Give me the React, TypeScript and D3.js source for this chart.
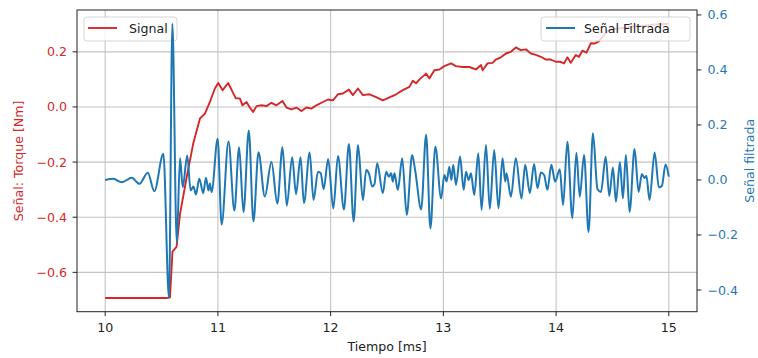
import React from "react";
import * as d3 from "d3";

// ---- data (time in ms) ----
const redT = [10.0, 10.546, 10.575, 10.597, 10.633, 10.664, 10.723, 10.781, 10.841, 10.885, 10.929, 10.973, 11.003, 11.042, 11.091, 11.13, 11.159, 11.195, 11.218, 11.254, 11.283, 11.312, 11.343, 11.387, 11.431, 11.475, 11.519, 11.573, 11.608, 11.652, 11.696, 11.741, 11.785, 11.829, 11.873, 11.932, 11.976, 12.02, 12.065, 12.109, 12.162, 12.197, 12.242, 12.286, 12.345, 12.404, 12.463, 12.522, 12.581, 12.64, 12.699, 12.729, 12.758, 12.788, 12.847, 12.876, 12.92, 12.965, 13.009, 13.068, 13.112, 13.172, 13.23, 13.289, 13.334, 13.348, 13.392, 13.436, 13.466, 13.51, 13.555, 13.599, 13.643, 13.687, 13.732, 13.776, 13.82, 13.865, 13.909, 13.953, 13.997, 14.035, 14.071, 14.1, 14.13, 14.174, 14.204, 14.233, 14.27, 14.307, 14.341, 14.381, 14.425, 14.469, 14.558, 14.676, 14.779, 14.885, 15.0];
const redV = [-0.693, -0.693, -0.691, -0.525, -0.508, -0.388, -0.255, -0.133, -0.042, -0.024, 0.018, 0.067, 0.087, 0.061, 0.087, 0.055, 0.031, 0.031, 0.006, 0.018, -0.002, -0.018, 0.003, 0.006, 0.003, 0.015, 0.006, 0.022, -0.002, -0.009, -0.002, -0.015, -0.002, -0.006, 0.006, 0.018, 0.027, 0.024, 0.046, 0.049, 0.063, 0.043, 0.067, 0.043, 0.046, 0.036, 0.024, 0.035, 0.046, 0.061, 0.073, 0.095, 0.086, 0.1, 0.121, 0.103, 0.133, 0.136, 0.148, 0.158, 0.148, 0.145, 0.145, 0.136, 0.152, 0.133, 0.158, 0.16, 0.172, 0.18, 0.194, 0.2, 0.216, 0.206, 0.209, 0.194, 0.189, 0.182, 0.172, 0.172, 0.164, 0.164, 0.158, 0.18, 0.16, 0.188, 0.182, 0.204, 0.197, 0.231, 0.23, 0.239, 0.261, 0.279, 0.285, 0.291, 0.295, 0.299, 0.302];

const blueT = [10.0, 10.073, 10.148, 10.236, 10.304, 10.378, 10.436, 10.516, 10.566, 10.596, 10.635, 10.664, 10.688, 10.728, 10.758, 10.783, 10.805, 10.835, 10.87, 10.894, 10.916, 10.929, 10.944, 10.998, 11.033, 11.094, 11.146, 11.188, 11.227, 11.274, 11.315, 11.36, 11.416, 11.475, 11.527, 11.573, 11.611, 11.659, 11.693, 11.733, 11.763, 11.814, 11.848, 11.888, 11.912, 11.938, 11.978, 12.024, 12.065, 12.118, 12.162, 12.204, 12.243, 12.286, 12.316, 12.341, 12.369, 12.389, 12.413, 12.463, 12.493, 12.516, 12.537, 12.551, 12.566, 12.596, 12.635, 12.675, 12.723, 12.752, 12.803, 12.847, 12.885, 12.929, 12.98, 13.009, 13.029, 13.053, 13.071, 13.088, 13.112, 13.148, 13.18, 13.201, 13.224, 13.245, 13.274, 13.31, 13.339, 13.378, 13.412, 13.451, 13.489, 13.525, 13.549, 13.56, 13.599, 13.643, 13.693, 13.726, 13.767, 13.805, 13.835, 13.865, 13.894, 13.923, 13.958, 13.991, 14.033, 14.062, 14.1, 14.144, 14.18, 14.21, 14.248, 14.288, 14.327, 14.367, 14.398, 14.44, 14.472, 14.504, 14.531, 14.566, 14.593, 14.619, 14.652, 14.696, 14.732, 14.761, 14.783, 14.801, 14.829, 14.874, 14.912, 14.938, 14.971, 15.0];
const blueV = [0.0, 0.004, -0.008, 0.008, -0.014, 0.026, -0.041, 0.095, -0.429, 0.568, -0.227, 0.08, -0.026, 0.089, -0.038, -0.024, -0.053, 0.004, -0.048, 0.008, -0.038, -0.013, -0.044, 0.15, -0.162, 0.14, -0.111, 0.119, -0.117, 0.18, -0.151, 0.101, -0.06, 0.065, -0.086, 0.119, -0.093, 0.083, -0.051, 0.083, -0.084, 0.1, -0.073, 0.03, 0.025, -0.033, 0.076, -0.104, 0.087, -0.107, 0.131, -0.151, 0.127, -0.073, 0.036, 0.022, -0.024, -0.015, 0.061, -0.048, 0.03, 0.012, 0.024, -0.006, 0.024, -0.036, 0.079, -0.127, 0.091, 0.029, -0.107, 0.164, -0.176, 0.121, -0.067, 0.018, -0.006, 0.048, 0.0, 0.055, -0.018, 0.085, -0.036, 0.03, 0.0, 0.024, -0.055, 0.097, -0.109, 0.127, -0.105, 0.109, -0.103, 0.079, -0.006, 0.024, -0.061, 0.079, -0.067, 0.055, -0.048, 0.058, -0.03, 0.027, 0.018, -0.036, 0.055, -0.006, 0.039, -0.091, 0.139, -0.139, 0.099, -0.061, 0.091, -0.189, 0.17, -0.033, -0.044, 0.084, -0.058, 0.045, -0.079, 0.064, -0.067, 0.091, -0.116, 0.113, -0.044, 0.022, 0.007, 0.015, -0.073, 0.1, -0.027, -0.022, 0.056, 0.012];

const xTicks = [10, 11, 12, 13, 14, 15];
const leftTicks = [-0.6, -0.4, -0.2, 0.0, 0.2];
const rightTicks = [-0.4, -0.2, 0.0, 0.2, 0.4, 0.6];

const RED = "#d62728";
const BLUE = "#1f77b4";
const FONT = "'DejaVu Sans', sans-serif";
const FS = 12.6;

const fmt = (v: number) => {
  const s = Math.abs(v).toFixed(1);
  return v < -1e-9 ? "\u2212" + s : s;
};

function padExtent(vals: number[]): [number, number] {
  const [a, b] = d3.extent(vals) as [number, number];
  const m = (b - a) * 0.05;
  return [a - m, b + m];
}

export default function App() {
  const L = 77, R = 697, T = 10, B = 311.7;
  const [tx0, tx1] = padExtent(blueT.concat(redT));
  const x = d3.scaleLinear().domain([tx0, tx1]).range([L, R]);
  const yL = d3.scaleLinear().domain(padExtent(redV)).range([B, T]);
  const yR = d3.scaleLinear().domain(padExtent(blueV)).range([B, T]);

  const redPts = redT.map((t, i) => [t, redV[i]] as [number, number]);
  const bluePts = blueT.map((t, i) => [t, blueV[i]] as [number, number]);
  const redPath = d3.line<[number, number]>().x(d => x(d[0])).y(d => yL(d[1]))(redPts) || "";
  const bluePath = d3
    .line<[number, number]>()
    .x(d => x(d[0]))
    .y(d => yR(d[1]))
    .curve(d3.curveMonotoneX)(bluePts) || "";

  const gridC = "#c4c4c4";
  const tickLen = 4.4;

  return (
    <>
      <style>{`body{margin:0}`}</style>
      <svg width={758} height={358} style={{ position: "absolute", left: 0, top: 0, background: "#fff" }} fontFamily={FONT}>
        <defs>
          <clipPath id="plotClip">
            <rect x={L} y={T} width={R - L} height={B - T} />
          </clipPath>
        </defs>
        {/* grid (left axis) */}
        {xTicks.map(t => (
          <line key={"gx" + t} x1={x(t)} x2={x(t)} y1={T} y2={B} stroke={gridC} strokeWidth={1.1} />
        ))}
        {leftTicks.map(t => (
          <line key={"gy" + t} x1={L} x2={R} y1={yL(t)} y2={yL(t)} stroke={gridC} strokeWidth={1.1} />
        ))}
        {/* red signal */}
        <path d={redPath} fill="none" stroke={RED} strokeWidth={1.9} clipPath="url(#plotClip)" strokeLinejoin="round" />
        {/* legend 1 */}
        <g>
          <rect x={84} y={17} width={93} height={24} rx={3} fill="#fff" fillOpacity={0.8} stroke="#cccccc" strokeOpacity={0.8} strokeWidth={1} />
          <line x1={88} x2={117} y1={28} y2={28} stroke={RED} strokeWidth={1.9} />
          <text x={129} y={32.5} fontSize={FS} fill="#222">Signal</text>
        </g>
        {/* blue filtered */}
        <path d={bluePath} fill="none" stroke={BLUE} strokeWidth={2} clipPath="url(#plotClip)" strokeLinejoin="round" />
        {/* legend 2 */}
        <g>
          <rect x={541} y={17} width={149} height={24} rx={3} fill="#fff" fillOpacity={0.8} stroke="#cccccc" strokeOpacity={0.8} strokeWidth={1} />
          <line x1={546} x2={575} y1={28} y2={28} stroke={BLUE} strokeWidth={2} />
          <text x={584} y={32.5} fontSize={FS} fill="#222">Señal Filtrada</text>
        </g>
        {/* frame */}
        <rect x={L} y={T} width={R - L} height={B - T} fill="none" stroke="#222" strokeWidth={1} />
        {/* x axis ticks */}
        {xTicks.map(t => (
          <g key={"xt" + t}>
            <line x1={x(t)} x2={x(t)} y1={B} y2={B + tickLen} stroke="#222" strokeWidth={1} />
            <text x={x(t)} y={B + 20.5} fontSize={FS} textAnchor="middle" fill="#222">{String(t)}</text>
          </g>
        ))}
        {/* left ticks */}
        {leftTicks.map(t => (
          <g key={"lt" + t}>
            <line x1={L - tickLen} x2={L} y1={yL(t)} y2={yL(t)} stroke="#222" strokeWidth={1} />
            <text x={67} y={yL(t) + 4.5} fontSize={FS} textAnchor="end" fill={RED}>{fmt(t)}</text>
          </g>
        ))}
        {/* right ticks */}
        {rightTicks.map(t => (
          <g key={"rt" + t}>
            <line x1={R} x2={R + tickLen} y1={yR(t)} y2={yR(t)} stroke="#222" strokeWidth={1} />
            <text x={707.5} y={yR(t) + 4.5} fontSize={FS} textAnchor="start" fill={BLUE}>{fmt(t)}</text>
          </g>
        ))}
        {/* axis labels */}
        <text x={(L + R) / 2} y={351} fontSize={FS} textAnchor="middle" fill="#222">Tiempo [ms]</text>
        <text transform={`translate(23,${(T + B) / 2}) rotate(-90)`} fontSize={FS} textAnchor="middle" fill={RED}>Señal: Torque [Nm]</text>
        <text transform={`translate(754,${(T + B) / 2}) rotate(-90)`} fontSize={FS} textAnchor="middle" fill={BLUE}>Señal filtrada</text>
      </svg>
    </>
  );
}
